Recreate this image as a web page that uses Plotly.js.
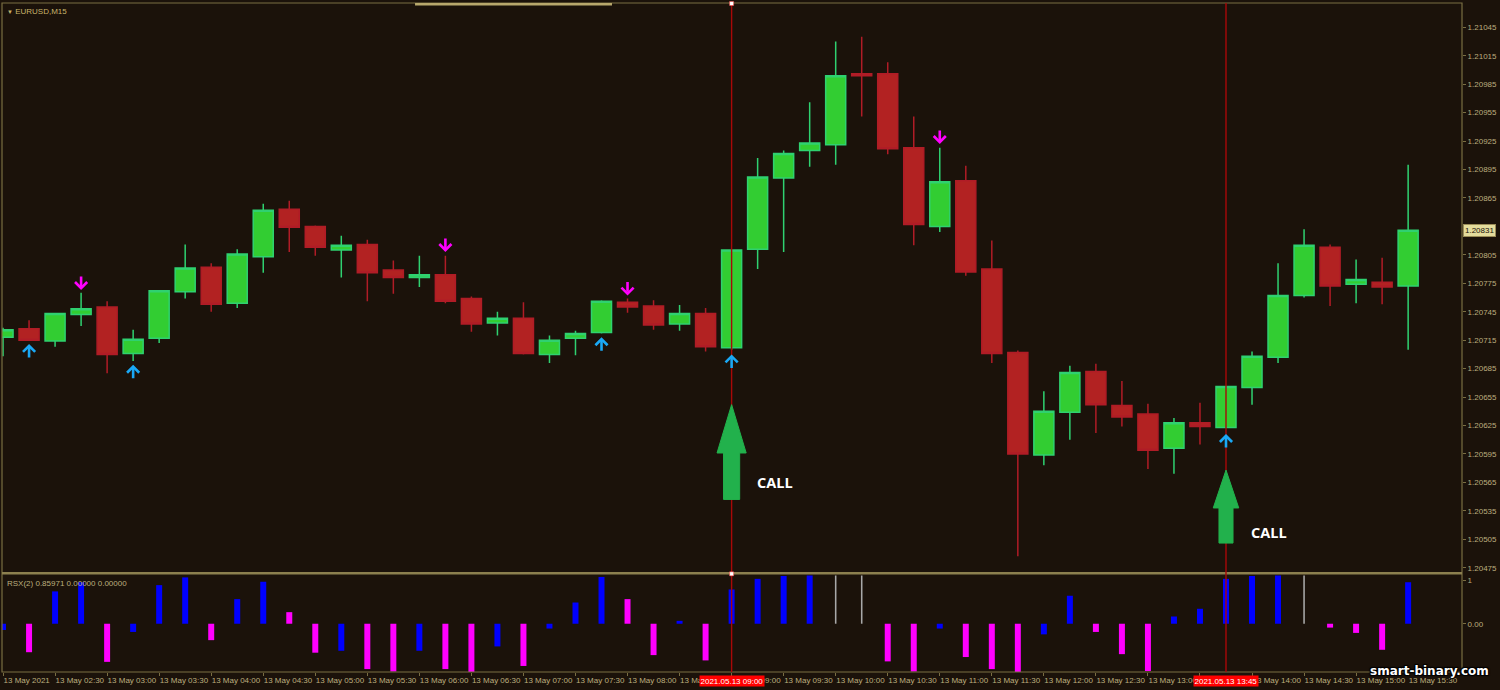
<!DOCTYPE html>
<html>
<head>
<meta charset="utf-8">
<script src="https://cdn.plot.ly/plotly-3.0.1.min.js"></script>
<style>
html,body{margin:0;padding:0;background:#1b120a;}
#chart{width:1500px;height:690px;}
</style>
</head>
<body>
<div id="chart"></div>
<script>
// ---------------- DATA ----------------
const symbolLabel = 'EURUSD,M15';
const dateLabel = '13 May 2021';
const dayLabel = '13 May';

const times = ['02:00','02:15','02:30','02:45','03:00','03:15','03:30','03:45','04:00','04:15',
  '04:30','04:45','05:00','05:15','05:30','05:45','06:00','06:15','06:30','06:45',
  '07:00','07:15','07:30','07:45','08:00','08:15','08:30','08:45','09:00','09:15',
  '09:30','09:45','10:00','10:15','10:30','10:45','11:00','11:15','11:30','11:45',
  '12:00','12:15','12:30','12:45','13:00','13:15','13:30','13:45','14:00','14:15',
  '14:30','14:45','15:00','15:15','15:30'];

const openPrices = [1.20718,1.20727,1.20714,1.20742,1.20750,1.20701,1.20717,1.20766,1.20792,1.20754,
  1.20803,1.20853,1.20835,1.20810,1.20816,1.20789,1.20781,1.20784,1.20759,1.20733,
  1.20738,1.20700,1.20717,1.20723,1.20755,1.20751,1.20732,1.20743,1.20707,1.20811,
  1.20886,1.20915,1.20921,1.20996,1.20996,1.20918,1.20835,1.20883,1.20790,1.20702,
  1.20594,1.20639,1.20682,1.20646,1.20637,1.20601,1.20628,1.20623,1.20665,1.20697,
  1.20762,1.20813,1.20774,1.20776,1.20772];
const highPrices = [1.20728,1.20736,1.20744,1.20765,1.20756,1.20726,1.20768,1.20816,1.20796,1.20811,
  1.20859,1.20862,1.20836,1.20825,1.20821,1.20799,1.20804,1.20804,1.20761,1.20745,
  1.20755,1.20720,1.20725,1.20757,1.20759,1.20757,1.20752,1.20749,1.20811,1.20907,
  1.20915,1.20966,1.21030,1.21035,1.21008,1.20951,1.20918,1.20899,1.20820,1.20704,
  1.20661,1.20688,1.20690,1.20672,1.20648,1.20633,1.20649,1.20667,1.20703,1.20796,
  1.20832,1.20816,1.20800,1.20802,1.20900];
const lowPrices = [1.20698,1.20714,1.20708,1.20730,1.20680,1.20693,1.20712,1.20759,1.20745,1.20749,
  1.20786,1.20808,1.20804,1.20781,1.20756,1.20764,1.20771,1.20754,1.20724,1.20720,
  1.20700,1.20691,1.20699,1.20722,1.20744,1.20726,1.20725,1.20703,1.20705,1.20790,
  1.20808,1.20898,1.20900,1.20951,1.20911,1.20815,1.20829,1.20783,1.20691,1.20487,
  1.20583,1.20610,1.20617,1.20624,1.20579,1.20574,1.20605,1.20622,1.20647,1.20691,
  1.20760,1.20751,1.20754,1.20753,1.20705];
const closePrices = [1.20726,1.20715,1.20743,1.20748,1.20700,1.20716,1.20767,1.20791,1.20753,1.20806,
  1.20852,1.20834,1.20813,1.20815,1.20786,1.20781,1.20784,1.20756,1.20732,1.20738,
  1.20701,1.20715,1.20722,1.20756,1.20750,1.20731,1.20743,1.20708,1.20810,1.20887,
  1.20912,1.20923,1.20994,1.20994,1.20917,1.20837,1.20882,1.20787,1.20701,1.20595,
  1.20640,1.20681,1.20647,1.20634,1.20599,1.20628,1.20624,1.20666,1.20698,1.20762,
  1.20815,1.20772,1.20779,1.20771,1.20831];

const rsxLabel = 'RSX(2) 0.85971 0.00000 0.00000';
const rsxValues = [-0.13,-0.59,0.67,0.86,-0.79,-0.17,0.80,0.96,-0.34,0.51,
  0.87,0.24,-0.60,-0.56,-0.94,-0.99,-0.56,-0.94,-1.00,-0.47,
  -0.875,-0.10,0.44,0.97,0.51,-0.65,0.06,-0.76,0.71,0.93,
  0.99,1.00,1.00,1.00,-0.78,-0.99,-0.10,-0.69,-0.94,-1.00,
  -0.22,0.58,-0.17,-0.63,-0.98,0.15,0.31,0.93,0.99,1.00,
  1.00,-0.08,-0.19,-0.54,0.86];
// state of each RSX bar: 'up' (blue), 'down' (magenta), 'flat' (gray)
const rsxStates = ['up','down','up','up','down','up','up','up','down','up',
  'up','down','down','up','down','down','up','down','down','up',
  'down','up','up','up','down','down','up','down','up','up',
  'up','up','flat','flat','down','down','up','down','down','down',
  'up','up','down','down','down','up','up','up','up','up',
  'flat','down','down','down','up'];

// small signal arrows: price of the arrow tip
const upSignalTimes = ['02:15','03:15','07:45','09:00','13:45'];
const upSignalPrices = [1.20711,1.20689,1.20718,1.20700,1.20616];
const downSignalTimes = ['02:45','06:15','08:00','11:00'];
const downSignalPrices = [1.20768,1.20808,1.20762,1.20922];

const callTimes = ['09:00','13:45'];
const callStamps = ['2021.05.13 09:00','2021.05.13 13:45'];
const callTipPrices = [1.20647,1.20578];
const callHeadPrices = [1.20596,1.20538];
const callTailPrices = [1.20547,1.20501];
const callTextPrices = [1.20565,1.20512];
const callText = 'CALL';

const currentPrice = 1.20831;
const priceTickValues = [1.20475,1.20505,1.20535,1.20565,1.20595,1.20625,1.20655,1.20685,1.20715,1.20745,
  1.20775,1.20805,1.20835,1.20865,1.20895,1.20925,1.20955,1.20985,1.21015,1.21045];
const rsxTickValues = [0.9,0];
const rsxTickLabels = ['1','0.00'];
const hiddenTimeLabels = ['13:30']; // fully covered by the 13:45 time stamp
const watermark = 'smart-binary.com';

// ---------------- STYLE ----------------
const BG = '#1b120a';
const FRAME = '#7a6e42';
const TXT = '#bcae7e';
const GREEN_FILL = '#32cd32';
const GREEN_LINE = '#2fd170';
const RED_FILL = '#b22222';
const RED_LINE = '#b01c26';
const UP_ARROW = '#1aa8f5';
const DOWN_ARROW = '#ff00ff';
const CALL_GREEN = '#22b14c';
const VLINE = '#a80808';
const rsxColorMap = {up:'#0000ff', down:'#ff00ff', flat:'#a8a8a8'};
const rsxWidthMap = {up:0.23, down:0.23, flat:0.06};
const FONT = 'Liberation Sans, Arial, sans-serif';

// ---------------- BUILD ----------------
const idx = times.map((t, i) => i);
const pos = t => times.indexOf(t);

const tickIdx = idx.filter(i => times[i].endsWith(':00') || times[i].endsWith(':30'));
const tickText = tickIdx.map(i => i === 0 ? dateLabel :
  (hiddenTimeLabels.includes(times[i]) ? '' : dayLabel + ' ' + times[i]));

const traces = [
  {
    type: 'candlestick', x: idx, open: openPrices, high: highPrices, low: lowPrices, close: closePrices,
    xaxis: 'x', yaxis: 'y', whiskerwidth: 0, hoverinfo: 'skip',
    increasing: {fillcolor: GREEN_FILL, line: {color: GREEN_LINE, width: 1.5}},
    decreasing: {fillcolor: RED_FILL, line: {color: RED_LINE, width: 1.5}}
  },
  {
    type: 'bar', x: idx, y: rsxValues, xaxis: 'x', yaxis: 'y2',
    marker: {color: rsxStates.map(s => rsxColorMap[s]), line: {width: 0}},
    width: rsxStates.map(s => rsxWidthMap[s]), hoverinfo: 'skip'
  }
];

const HEAD_HALF = [0.56, 0.49];
const SHAFT_HALF = [0.31, 0.27];
function arrowPath(x, tip, head, tail, hw, sw) {
  return `M ${x} ${tip} L ${x + hw} ${head} L ${x + sw} ${head} L ${x + sw} ${tail} ` +
         `L ${x - sw} ${tail} L ${x - sw} ${head} L ${x - hw} ${head} Z`;
}

const shapes = [];
shapes.push({type: 'rect', xref: 'paper', yref: 'paper', x0: 0, x1: 1, y0: 0, y1: 1,
  line: {color: FRAME, width: 1.2}, layer: 'above'});
shapes.push({type: 'line', xref: 'paper', yref: 'paper', x0: 0, x1: 1, y0: 0.1475, y1: 0.1475,
  line: {color: '#8c804f', width: 2.5}, layer: 'above'});
shapes.push({type: 'line', xref: 'paper', yref: 'paper', x0: 0.2829, x1: 0.4178, y0: 0.998, y1: 0.998,
  line: {color: '#b8a86c', width: 2.5}, layer: 'above'});
callTimes.forEach(t => {
  shapes.push({type: 'line', xref: 'x', yref: 'paper', x0: pos(t), x1: pos(t), y0: 0, y1: 1,
    line: {color: VLINE, width: 1.4}, layer: 'above'});
});
[1, 0.1475].forEach(yy => {
  shapes.push({type: 'rect', xref: 'x', yref: 'paper', xsizemode: 'pixel', ysizemode: 'pixel',
    xanchor: pos(callTimes[0]), yanchor: yy, x0: -2, x1: 2, y0: -2.5, y1: 1.5,
    fillcolor: '#ffffff', line: {color: '#ff4040', width: 0.5}, layer: 'above'});
});
callTimes.forEach((t, k) => {
  shapes.push({type: 'path', xref: 'x', yref: 'y',
    path: arrowPath(pos(t), callTipPrices[k], callHeadPrices[k], callTailPrices[k], HEAD_HALF[k], SHAFT_HALF[k]),
    fillcolor: CALL_GREEN, line: {color: CALL_GREEN, width: 1}, layer: 'above'});
});

const annotations = [];
upSignalTimes.forEach((t, k) => {
  annotations.push({xref: 'x', yref: 'y', x: pos(t), y: upSignalPrices[k], text: '',
    showarrow: true, ax: 0, ay: 15, arrowhead: 4, arrowsize: 0.9, arrowwidth: 2.6,
    arrowcolor: UP_ARROW, standoff: 0, startstandoff: 0});
});
downSignalTimes.forEach((t, k) => {
  annotations.push({xref: 'x', yref: 'y', x: pos(t), y: downSignalPrices[k], text: '',
    showarrow: true, ax: 0, ay: -15, arrowhead: 4, arrowsize: 0.9, arrowwidth: 2.6,
    arrowcolor: DOWN_ARROW, standoff: 0, startstandoff: 0});
});
annotations.push({xref: 'paper', yref: 'paper', x: 0, y: 1, xanchor: 'left', yanchor: 'top',
  xshift: 3, yshift: -2, showarrow: false,
  text: '<span style="font-size:6px">▼</span> ' + symbolLabel,
  font: {family: FONT, size: 8, color: '#c8b46a'}});
annotations.push({xref: 'paper', yref: 'paper', x: 0, y: 0.1445, xanchor: 'left', yanchor: 'top',
  xshift: 3, yshift: -2, showarrow: false, text: rsxLabel,
  font: {family: FONT, size: 8, color: TXT}});
annotations.push({xref: 'paper', yref: 'y', x: 1, y: currentPrice, xanchor: 'left', yanchor: 'middle',
  xshift: 1, showarrow: false, text: currentPrice.toFixed(5), bgcolor: '#e4dc9c',
  bordercolor: '#9a8c58', borderwidth: 1, borderpad: 1,
  font: {family: FONT, size: 8, color: '#1b120a'}});
callTimes.forEach((t, k) => {
  annotations.push({xref: 'x', yref: 'paper', x: pos(t), y: -0.0135, xanchor: 'center', yanchor: 'middle',
    showarrow: false, text: callStamps[k], bgcolor: '#ff0000', borderpad: 0.5,
    font: {family: FONT, size: 8, color: '#ffffff'}});
  annotations.push({xref: 'x', yref: 'y', x: pos(t), y: callTextPrices[k], xanchor: 'left', yanchor: 'middle',
    xshift: 23, showarrow: false, text: callText,
    font: {family: 'Open Sans', size: 14.5, color: '#ffffff', weight: 'bold'}});
});
annotations.push({xref: 'paper', yref: 'paper', x: 0.9774, y: 0.0015, xanchor: 'center', yanchor: 'middle',
  showarrow: false, text: watermark,
  font: {family: 'DejaVu Sans', size: 12, color: '#ffffff', weight: 'bold',
    shadow: '1px 1px 1px #000, -1px -1px 1px #000, 1px -1px 1px #000, -1px 1px 1px #000'}});

const layout = {
  width: 1500, height: 690,
  paper_bgcolor: BG, plot_bgcolor: BG,
  margin: {l: 2, r: 38, t: 3, b: 18, pad: 0},
  showlegend: false,
  hovermode: false,
  dragmode: false,
  boxgap: 0.23, boxgroupgap: 0,
  font: {family: FONT, size: 8, color: TXT},
  xaxis: {
    range: [-0.04, 56.07], anchor: 'y2', tickmode: 'array', tickvals: tickIdx, ticktext: tickText,
    tickangle: 0, automargin: false,
    ticks: 'outside', ticklen: 3, tickcolor: FRAME, tickwidth: 1, ticklabelposition: 'outside right',
    tickfont: {family: FONT, size: 8, color: TXT}, showgrid: false, zeroline: false, showline: false,
    rangeslider: {visible: false}, fixedrange: true
  },
  yaxis: {
    domain: [0.1495, 1], range: [1.204705, 1.210706], side: 'right', anchor: 'x',
    tickmode: 'array', tickvals: priceTickValues,
    ticktext: priceTickValues.map(v => Math.abs(v - currentPrice) < 0.00008 ? '' : v.toFixed(5)),
    ticks: 'outside', ticklen: 3, tickcolor: FRAME, tickfont: {family: FONT, size: 8, color: TXT},
    showgrid: false, zeroline: false, showline: false, fixedrange: true, automargin: false
  },
  yaxis2: {
    domain: [0, 0.145], range: [-1.0, 1.01], side: 'right', anchor: 'x',
    tickmode: 'array', tickvals: rsxTickValues, ticktext: rsxTickLabels,
    ticks: 'outside', ticklen: 3, tickcolor: FRAME, tickfont: {family: FONT, size: 8, color: TXT},
    showgrid: false, zeroline: false, showline: false, fixedrange: true, automargin: false
  },
  shapes: shapes,
  annotations: annotations
};

Plotly.newPlot('chart', traces, layout, {staticPlot: true, displayModeBar: false});
</script>
</body>
</html>
